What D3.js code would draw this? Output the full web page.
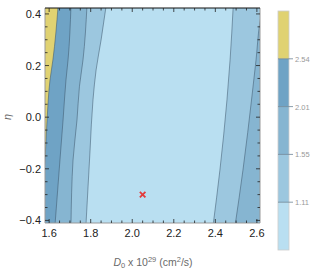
<!DOCTYPE html>
<html>
<head>
<meta charset="utf-8">
<script src="https://cdn.jsdelivr.net/npm/d3@7"></script>
<style>
  body { margin: 0; background: #fff; }
  text { font-family: "Liberation Sans", Arial, sans-serif; }
</style>
</head>
<body>
<svg id="chart" width="316" height="274"></svg>
<script>
// contour levels and band colours (lowest band first)
const levels = [1.11, 1.55, 2.01, 2.54];
const bandColors = ["#b9dff1", "#9cc7df", "#86b5d1", "#6fa3c5", "#e0d272"];

const xTicks = [1.6, 1.8, 2.0, 2.2, 2.4, 2.6];
const yTicks = [-0.4, -0.2, 0.0, 0.2, 0.4];

// contour lines, [D0, eta], top to bottom
// left side: region to the left of each line is above the level
const left111 = [[1.874, 0.43], [1.850, 0.299], [1.826, 0.183], [1.811, 0.067], [1.797, -0.127], [1.777, -0.42]];
const left155 = [[1.782, 0.43], [1.763, 0.222], [1.746, 0.120], [1.734, -0.011], [1.715, -0.166], [1.705, -0.42]];
const left201 = [[1.705, 0.43], [1.691, 0.222], [1.681, 0.144], [1.667, -0.011], [1.652, -0.166], [1.628, -0.42]];
const left254 = [[1.643, 0.43], [1.618, 0.222], [1.604, 0.144], [1.590, -0.011], [1.581, -0.15], [1.572, -0.25]];
// right side: region to the right of each line is above the level
const right111 = [[2.486, 0.43], [2.471, 0.222], [2.456, 0.067], [2.422, -0.205], [2.389, -0.42]];
const right155 = [[2.628, 0.43], [2.613, 0.36], [2.596, 0.222], [2.577, 0.086], [2.533, -0.205], [2.495, -0.42]];

const bestFit = [2.05, -0.30];

const svg = d3.select("#chart");
const margin = { left: 45, top: 8, right: 260, bottom: 223 };

const x = d3.scaleLinear().domain([1.58, 2.615]).range([margin.left, margin.right]);
const y = d3.scaleLinear().domain([-0.41, 0.423]).range([margin.bottom, margin.top]);

svg.append("clipPath").attr("id", "plotClip")
  .append("rect")
  .attr("x", margin.left).attr("y", margin.top)
  .attr("width", margin.right - margin.left).attr("height", margin.bottom - margin.top);

const plot = svg.append("g").attr("clip-path", "url(#plotClip)");

// lowest band everywhere
plot.append("rect")
  .attr("x", margin.left).attr("y", margin.top)
  .attr("width", margin.right - margin.left).attr("height", margin.bottom - margin.top)
  .attr("fill", bandColors[0]);

const leftArea = d3.area().curve(d3.curveMonotoneY)
  .y(d => y(d[1])).x0(margin.left - 10).x1(d => x(d[0]));
const rightArea = d3.area().curve(d3.curveMonotoneY)
  .y(d => y(d[1])).x0(d => x(d[0])).x1(margin.right + 10);
const contourLine = d3.line().curve(d3.curveMonotoneY)
  .x(d => x(d[0])).y(d => y(d[1]));

const leftLines = [left111, left155, left201, left254];
leftLines.forEach((pts, i) => {
  plot.append("path").attr("d", leftArea(pts)).attr("fill", bandColors[i + 1]);
});
[right111, right155].forEach((pts, i) => {
  plot.append("path").attr("d", rightArea(pts)).attr("fill", bandColors[i + 1]);
});

// contour lines
leftLines.concat([right111, right155]).forEach(pts => {
  plot.append("path").attr("d", contourLine(pts))
    .attr("fill", "none")
    .attr("stroke", "#3a5468")
    .attr("stroke-opacity", 0.65)
    .attr("stroke-width", 0.8);
});

// best fit marker
plot.append("path")
  .attr("transform", `translate(${x(bestFit[0])},${y(bestFit[1])})`)
  .attr("d", d3.symbol(d3.symbolX, 22)())
  .attr("fill", "none")
  .attr("stroke", "#e33b3b")
  .attr("stroke-width", 1.8);

// frame
const frame = svg.append("g");
frame.append("line").attr("x1", margin.left).attr("x2", margin.left)
  .attr("y1", margin.top).attr("y2", margin.bottom).attr("stroke", "#999");
frame.append("line").attr("x1", margin.right).attr("x2", margin.right)
  .attr("y1", margin.top).attr("y2", margin.bottom).attr("stroke", "#999");
frame.append("line").attr("x1", margin.left).attr("x2", margin.right)
  .attr("y1", margin.bottom).attr("y2", margin.bottom).attr("stroke", "#999");
frame.append("line").attr("x1", margin.left).attr("x2", margin.right)
  .attr("y1", margin.top).attr("y2", margin.top).attr("stroke", "#111");

// ticks on all four sides, inward
const xMinor = d3.range(1.6, 2.6001, 0.05);
const yMinor = d3.range(-0.4, 0.4001, 0.05);
const isMajor = v => Math.abs(v * 5 - Math.round(v * 5)) < 1e-6;
xMinor.forEach(v => {
  const len = isMajor(v) ? 4 : 2.5;
  frame.append("line").attr("x1", x(v)).attr("x2", x(v))
    .attr("y1", margin.bottom).attr("y2", margin.bottom - len).attr("stroke", "#222").attr("stroke-width", 0.8);
  frame.append("line").attr("x1", x(v)).attr("x2", x(v))
    .attr("y1", margin.top).attr("y2", margin.top + len).attr("stroke", "#222").attr("stroke-width", 0.8);
});
yMinor.forEach(v => {
  const len = isMajor(v) ? 4 : 2.5;
  frame.append("line").attr("y1", y(v)).attr("y2", y(v))
    .attr("x1", margin.left).attr("x2", margin.left + len).attr("stroke", "#222").attr("stroke-width", 0.8);
  frame.append("line").attr("y1", y(v)).attr("y2", y(v))
    .attr("x1", margin.right).attr("x2", margin.right - len).attr("stroke", "#222").attr("stroke-width", 0.8);
});

// tick labels
svg.append("g").selectAll("text").data(xTicks).join("text")
  .attr("x", d => x(d)).attr("y", margin.bottom + 14)
  .attr("text-anchor", "middle").attr("font-size", 11).attr("fill", "#222")
  .text(d => d.toFixed(1));
svg.append("g").selectAll("text").data(yTicks).join("text")
  .attr("x", margin.left - 4).attr("y", d => y(d) + 4)
  .attr("text-anchor", "end").attr("font-size", 11).attr("fill", "#222")
  .text(d => d.toFixed(1).replace("-", "\u2212"));

// axis labels
const xl = svg.append("text").attr("x", 153).attr("y", 266)
  .attr("text-anchor", "middle").attr("font-size", 10.5).attr("fill", "#6a6a6a");
xl.append("tspan").attr("font-style", "italic").text("D");
xl.append("tspan").attr("font-size", 7.5).attr("dy", 2).text("0");
xl.append("tspan").attr("dy", -2).text(" x 10");
xl.append("tspan").attr("font-size", 7.5).attr("dy", -4).text("29");
xl.append("tspan").attr("dy", 4).text(" (cm");
xl.append("tspan").attr("font-size", 7.5).attr("dy", -4).text("2");
xl.append("tspan").attr("dy", 4).text("/s)");

svg.append("text")
  .attr("transform", "translate(11,117) rotate(-90)")
  .attr("text-anchor", "middle").attr("font-size", 11)
  .attr("font-style", "italic").attr("fill", "#6a6a6a")
  .text("η");

// colour bar, equal-height bands
const bar = { x: 278, w: 11, top: 11, bottom: 250 };
const barY = d3.scaleLinear().domain([0, bandColors.length]).range([bar.bottom, bar.top]);
const cb = svg.append("g");
cb.selectAll("rect").data(bandColors).join("rect")
  .attr("x", bar.x).attr("width", bar.w)
  .attr("y", (d, i) => barY(i + 1)).attr("height", (d, i) => barY(i) - barY(i + 1))
  .attr("fill", d => d);
cb.append("rect").attr("x", bar.x).attr("y", bar.top)
  .attr("width", bar.w).attr("height", bar.bottom - bar.top)
  .attr("fill", "none").attr("stroke", "#ccc").attr("stroke-width", 0.8);
cb.selectAll("line.tk").data(levels).join("line").attr("class", "tk")
  .attr("x1", bar.x).attr("x2", bar.x + bar.w + 4)
  .attr("y1", (d, i) => barY(i + 1)).attr("y2", (d, i) => barY(i + 1))
  .attr("stroke", "#6d8597").attr("stroke-width", 0.8);
cb.selectAll("text").data(levels).join("text")
  .attr("x", bar.x + bar.w + 6).attr("y", (d, i) => barY(i + 1) + 3)
  .attr("font-size", 7.5).attr("fill", "#999")
  .text(d => d.toFixed(2));
</script>
</body>
</html>
